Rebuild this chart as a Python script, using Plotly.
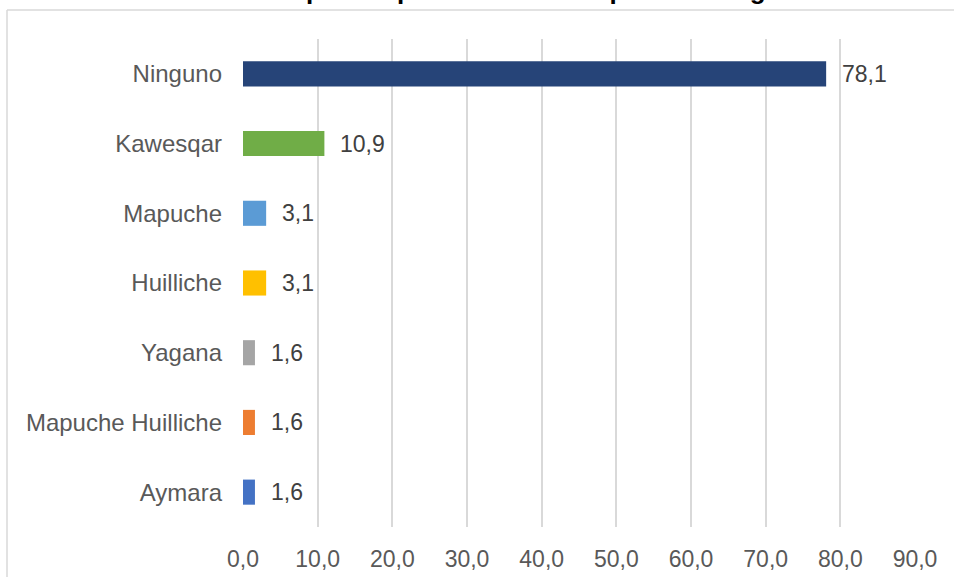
import plotly.graph_objects as go

# Pueblos originarios (porcentaje de participantes)
categorias = ["Aymara", "Mapuche Huilliche", "Yagana", "Huilliche", "Mapuche", "Kawesqar", "Ninguno"]
porcentajes = [1.6, 1.6, 1.6, 3.1, 3.1, 10.9, 78.1]
colores = ["#4472C4", "#ED7D31", "#A5A5A5", "#FFC000", "#5B9BD5", "#70AD47", "#264478"]
ticks_x = [0, 10, 20, 30, 40, 50, 60, 70, 80, 90]
titulo = "Gráfico 1: Participantes pertenecientes a pueblos originarios"

fig = go.Figure(
    go.Bar(
        x=porcentajes,
        y=categorias,
        orientation="h",
        marker=dict(color=colores, line=dict(width=0)),
        hoverinfo="skip",
    )
)

# Etiquetas de valor a la derecha de cada barra
for cat, val in zip(categorias, porcentajes):
    fig.add_annotation(
        x=val, y=cat, xref="x", yref="y",
        text=f"{val:.1f}".replace(".", ","),
        showarrow=False, xanchor="left", yanchor="middle", xshift=14,
        font=dict(family="Liberation Sans, Arial", size=23, color="#404040"),
    )

# Título en el borde superior de la página
fig.add_annotation(
    x=0.344, y=1.0, xref="paper", yref="paper",
    text=f"<b>{titulo}</b>", showarrow=False,
    xanchor="center", yanchor="top", yshift=66,
    font=dict(family="Liberation Sans, Arial", size=26, color="#000000"),
)

# Marco del área del gráfico
fig.add_shape(type="line", xref="paper", yref="paper",
              x0=(7 - 243) / 672, x1=2, y0=1 + 29 / 488, y1=1 + 29 / 488,
              line=dict(color="#D9D9D9", width=1.5))
fig.add_shape(type="line", xref="paper", yref="paper",
              x0=(7 - 243) / 672, x1=(7 - 243) / 672, y0=-1, y1=1 + 29 / 488,
              line=dict(color="#D9D9D9", width=1.5))

fig.update_layout(
    width=954, height=577,
    margin=dict(l=243, r=39, t=39, b=50, autoexpand=False),
    paper_bgcolor="white", plot_bgcolor="white",
    separators=",.",
    bargap=0.64,
    showlegend=False,
    font=dict(family="Liberation Sans, Arial", color="#595959"),
)
fig.update_xaxes(
    range=[0, 90], tickvals=ticks_x, tickformat=".1f",
    showgrid=True, gridcolor="#D9D9D9", gridwidth=1.5,
    zeroline=False, showline=False, automargin=False,
    ticks="", ticklabelstandoff=16,
    tickfont=dict(family="Liberation Sans, Arial", size=23, color="#595959"),
    fixedrange=True,
)
fig.update_yaxes(
    categoryorder="array", categoryarray=categorias,
    showgrid=False, zeroline=False, showline=False, automargin=False,
    ticks="", ticklabelstandoff=20,
    tickfont=dict(family="Liberation Sans, Arial", size=24, color="#595959"),
    fixedrange=True,
)

fig.write_html("out.html")
